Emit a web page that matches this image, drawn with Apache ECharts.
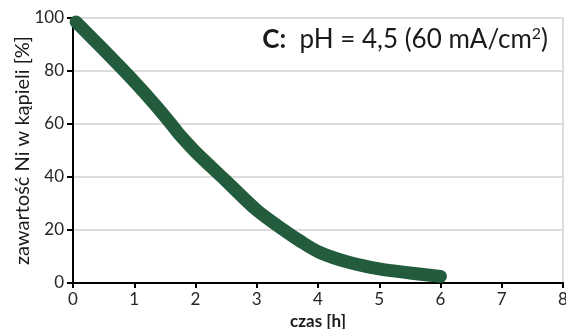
<!DOCTYPE html>
<html>
<head>
<meta charset="utf-8">
<script src="https://cdn.jsdelivr.net/npm/echarts@6/dist/echarts.min.js"></script>
<style>
  html, body { margin: 0; padding: 0; background: #fff; }
  #chart { width: 566px; height: 329px; }
</style>
</head>
<body>
<div id="chart"></div>
<script>
// czas [h] and zawartość Ni [%]
const timeH = [0.05, 0.5, 1.0, 1.35, 1.62, 1.72, 2.0, 2.5, 3.0, 3.44, 3.71, 4.03, 4.5, 5.0, 5.5, 6.0];
const niPct = [98.5, 88, 76, 67, 59.5, 56.5, 49.5, 38.5, 27.5, 20, 15.8, 11.5, 7.8, 5.3, 3.8, 2.5];

const xTicks = [0, 1, 2, 3, 4, 5, 6, 7, 8];
const yTicks = [0, 20, 40, 60, 80, 100];

const font = 'Lato';
const chart = echarts.init(document.getElementById('chart'));

chart.setOption({
  animation: false,
  textStyle: { fontFamily: font },
  title: {
    text: '{b|C:}  pH = 4,5 (60 mA/cm{s|2})',
    right: 13,
    top: 21,
    textStyle: {
      fontFamily: font,
      fontSize: 26,
      fontWeight: 'normal',
      color: '#1a1a1a',
      rich: {
        b: { fontFamily: font, fontSize: 26, fontWeight: 'bold', color: '#1a1a1a' },
        s: { fontFamily: font, fontSize: 16, color: '#1a1a1a', verticalAlign: 'top', padding: [0, 0, 12, 0] }
      }
    }
  },
  grid: {
    left: 73, right: 3, top: 18, bottom: 46,
    outerBoundsMode: 'none',
    containLabel: false,
    show: true, borderColor: '#dcdcdc', borderWidth: 2
  },
  xAxis: {
    type: 'value',
    min: xTicks[0],
    max: xTicks[xTicks.length - 1],
    interval: 1,
    name: 'czas [h]',
    nameLocation: 'middle',
    nameGap: 30,
    nameMoveOverlap: false,
    nameTextStyle: { fontFamily: font, fontSize: 17, fontWeight: 'bold', color: '#1a1a1a' },
    axisLine: { lineStyle: { color: '#000', width: 2 } },
    axisTick: { show: true, length: 5, lineStyle: { color: '#000', width: 2 } },
    axisLabel: { fontSize: 17, color: '#262626', margin: 8 },
    splitLine: { show: false }
  },
  yAxis: {
    type: 'value',
    min: yTicks[0],
    max: yTicks[yTicks.length - 1],
    interval: 20,
    name: 'zawartość Ni w kąpieli [%]',
    nameLocation: 'middle',
    nameGap: 40,
    nameMoveOverlap: false,
    nameTextStyle: { fontFamily: font, fontSize: 20, color: '#1a1a1a' },
    axisLine: { show: true, lineStyle: { color: '#000', width: 2 } },
    axisTick: { show: true, length: 6, lineStyle: { color: '#000', width: 2 } },
    axisLabel: { fontSize: 17, color: '#262626', margin: 9 },
    splitLine: { lineStyle: { color: '#dcdcdc', width: 2 } }
  },
  series: [{
    type: 'line',
    smooth: 0.3,
    clip: false,
    symbol: 'none',
    data: timeH.map((t, i) => [t, niPct[i]]),
    lineStyle: { color: '#225c3d', width: 13, cap: 'round', join: 'round' }
  }]
});
</script>
</body>
</html>
